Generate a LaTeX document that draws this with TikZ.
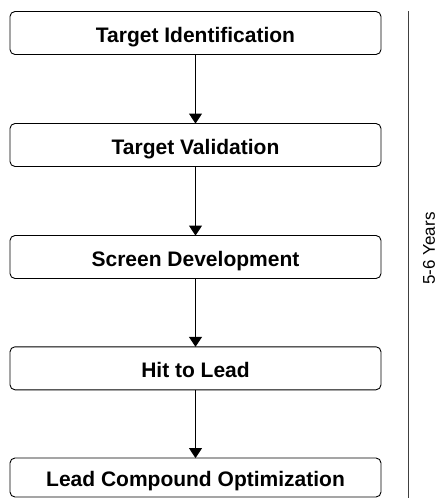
\documentclass[tikz,border=0pt]{standalone}
\usepackage{fontspec}
\setmainfont{Liberation Sans}
\usetikzlibrary{arrows.meta}
\begin{document}
\begin{tikzpicture}[x=1pt,y=-1pt,
  stagebox/.style={draw=black, line width=0.9pt, rounded corners=5pt, minimum width=371pt, minimum height=43pt, inner sep=0pt, text height=19pt, text depth=0pt, font=\fontsize{21}{24}\selectfont\bfseries, anchor=center},
  flow/.style={draw=black, line width=1pt, -{Triangle[length=10pt,width=13pt]}, shorten >=-0.5pt}]
\useasboundingbox (0,0) rectangle (438,498);
\node[stagebox] (ti) at (195.5,33) {Target Identification};
\node[stagebox] (tv) at (195.5,145) {Target Validation};
\node[stagebox] (sd) at (195.5,257) {Screen Development};
\node[stagebox] (hl) at (195.5,368.3) {Hit to Lead};
\node[stagebox, minimum height=39pt, text height=17pt] (lc) at (195.5,477.5) {Lead Compound Optimization};
\draw[flow] (ti.south) -- (tv.north);
\draw[flow] (tv.south) -- (sd.north);
\draw[flow] (sd.south) -- (hl.north);
\draw[flow] (hl.south) -- (lc.north);
\coordinate (lt) at (408.7,11.3);
\coordinate (lb) at (408.7,498);
\draw[line width=1.5pt, draw=black!75] (lt) -- (lb);
\node[rotate=90, font=\fontsize{17}{20}\selectfont, inner sep=0pt] (yrs) at (429,248.5) {5-6 Years};
\end{tikzpicture}
\end{document}
